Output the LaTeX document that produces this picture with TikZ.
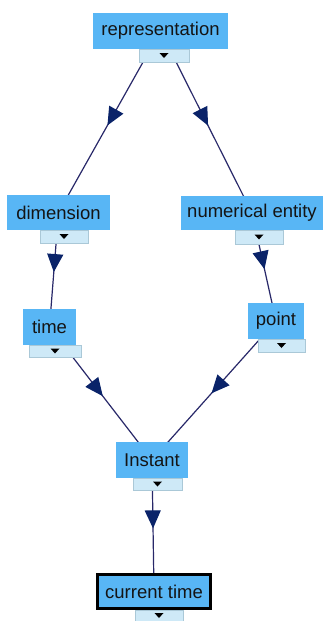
\documentclass[tikz,border=0pt]{standalone}
\usepackage{fontspec}
\setmainfont{Liberation Sans}
\usetikzlibrary{arrows.meta,decorations.markings,backgrounds,calc}
\definecolor{boxblue}{RGB}{88,182,245}
\definecolor{tabblue}{RGB}{206,233,247}
\definecolor{tabedge}{RGB}{170,200,215}
\definecolor{edgecol}{RGB}{40,40,105}
\definecolor{headcol}{RGB}{10,35,105}
\tikzset{
  box/.style={fill=boxblue, inner sep=0pt, text=black!92, font=\fontsize{18.5}{20}\selectfont},
  tabbox/.style={fill=tabblue, draw=tabedge, line width=0.4pt, inner sep=0pt},
  link/.style={draw=edgecol, line width=1.2pt, postaction={decorate},
    decoration={markings, mark=at position 0.52 with {\arrow[headcol]{Triangle[length=18pt 0,width=16pt 0]}}}}
}
\newcommand{\tabtri}[1]{\fill[black] ($(#1.center)+(-4.5,-2.5)$) -- ($(#1.center)+(4.5,-2.5)$) -- ($(#1.center)+(0,2.5)$) -- cycle;}
\begin{document}
\begin{tikzpicture}[x=1pt,y=-1pt]
\useasboundingbox (0,0) rectangle (325,621);
% boxes
\node[box, minimum width=135pt, minimum height=36pt] (rep) at (160.5,31) {representation};
\node[tabbox, minimum width=50pt, minimum height=13pt] (repT) at (164,55.5) {};
\node[box, minimum width=103pt, minimum height=35pt] (dim) at (58.5,212.5) {dimension};
\node[tabbox, minimum width=48pt, minimum height=13pt] (dimT) at (64,236.5) {};
\node[box, minimum width=142pt, minimum height=34pt] (num) at (252,213) {numerical entity};
\node[tabbox, minimum width=48pt, minimum height=14pt] (numT) at (259,237) {};
\node[box, minimum width=53pt, minimum height=36pt] (time) at (49.5,327) {time};
\node[tabbox, minimum width=52pt, minimum height=12pt] (timeT) at (55,351) {};
\node[box, minimum width=56pt, minimum height=36pt] (point) at (276,321) {point};
\node[tabbox, minimum width=47pt, minimum height=13pt] (pointT) at (281.5,345.5) {};
\node[box, minimum width=72pt, minimum height=36pt] (inst) at (152,460) {Instant};
\node[tabbox, minimum width=49pt, minimum height=12pt] (instT) at (157.5,484) {};
\node[box, draw=black, line width=3pt, minimum width=113pt, minimum height=34pt] (cur) at (154,591.5) {current time};
\node[tabbox, minimum width=48pt, minimum height=11pt] (curT) at (159,615.5) {};
% tab triangles
\tabtri{repT}
\tabtri{dimT}
\tabtri{numT}
\tabtri{timeT}
\tabtri{pointT}
\tabtri{instT}
\tabtri{curT}
% connectors
\begin{pgfonlayer}{background}
\fill[white] (0,0) rectangle (325,621);
\draw[link] (rep.center) -- (dim.center);
\draw[link] (rep.center) -- (num.center);
\draw[link] (dim.center) -- (time.center);
\draw[link] (num.center) -- (point.center);
\draw[link] (time.center) -- (inst.center);
\draw[link] (point.center) -- (inst.center);
\draw[link] (inst.center) -- (cur.center);
\end{pgfonlayer}
\end{tikzpicture}
\end{document}
